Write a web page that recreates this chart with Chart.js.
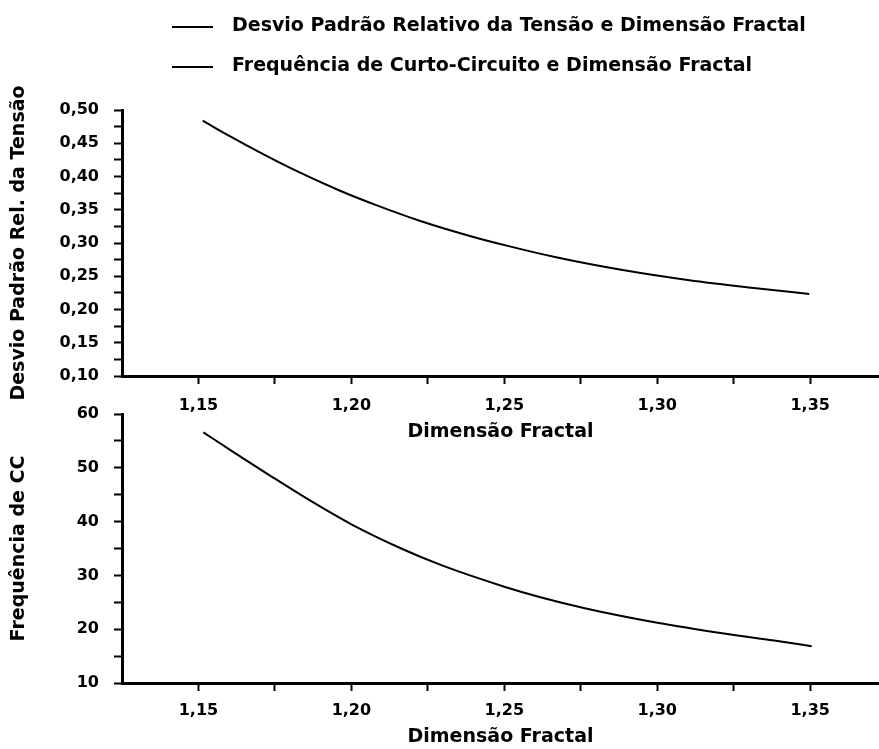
<!DOCTYPE html>
<html><head><meta charset="utf-8">
<script src="https://cdn.jsdelivr.net/npm/chart.js@4.4.1/dist/chart.umd.min.js"></script>
<style>
html,body{margin:0;padding:0;background:#fff;}
#wrap{position:relative;width:879px;height:749px;overflow:hidden;background:#fff;}
canvas{position:absolute;left:0;top:0;}
</style></head><body>
<div id="wrap">
<canvas id="bottomChart" width="879" height="749"></canvas>
<canvas id="topChart" width="879" height="450"></canvas>
</div>
<script>
// ---- data ----
const seriesNames = [
  'Desvio Padrão Relativo da Tensão e Dimensão Fractal',
  'Frequência de Curto-Circuito e Dimensão Fractal'
];
const xTitle = 'Dimensão Fractal';
const yTitleTop = 'Desvio Padrão Rel. da Tensão';
const yTitleBottom = 'Frequência de CC';

const dimTop = [1.1514, 1.1601, 1.1699, 1.1808, 1.1961, 1.2081, 1.2233, 1.2396, 1.2511, 1.2669, 1.2887, 1.3105, 1.3323, 1.3497];
const desvio = [0.484, 0.461, 0.4365, 0.411, 0.379, 0.357, 0.332, 0.3095, 0.2957, 0.2786, 0.2594, 0.2441, 0.2321, 0.2234];

const dimBottom = [1.1516, 1.1612, 1.1730, 1.1874, 1.2000, 1.2163, 1.2294, 1.2500, 1.2621, 1.2763, 1.3000, 1.3218, 1.3382, 1.3505];
const frequencia = [56.6, 53.0, 48.7, 43.6, 39.5, 35.0, 31.9, 27.9, 25.9, 23.9, 21.2, 19.2, 17.9, 16.85];

const xRange = [1.125, 1.3725];
const yRangeTop = [0.10, 0.50];
const yRangeBottom = [10, 60];

// ---- helpers ----
const FAMILY = '"DejaVu Sans", "Liberation Sans", sans-serif';
const tickFont = {family: FAMILY, size: 16, weight: 'bold'};
const titleFont = {family: FAMILY, size: 19, weight: 'bold'};
function isMult(v, s){ const r = v / s; return Math.abs(r - Math.round(r)) < 1e-6; }
function fmt(v, d){ return v.toFixed(d).replace('.', ','); }

const stackLegend = {
  id: 'stackLegend',
  afterDraw(chart, args, o) {
    if (!o || !o.items) return;
    const ctx = chart.ctx;
    ctx.save();
    ctx.font = 'bold 19px ' + FAMILY;
    ctx.fillStyle = '#000';
    ctx.strokeStyle = '#000';
    ctx.lineWidth = 2;
    ctx.textBaseline = 'middle';
    o.items.forEach((t, i) => {
      const y = o.top + i * o.rowGap;
      ctx.beginPath();
      ctx.moveTo(o.left, y + o.lineOffset);
      ctx.lineTo(o.left + o.lineLen, y + o.lineOffset);
      ctx.stroke();
      ctx.fillText(t, o.left + o.lineLen + o.gap, y);
    });
    ctx.restore();
  }
};

function xScale(height, labelPad, titlePadBottom) {
  return {
    type: 'linear', min: xRange[0], max: xRange[1],
    afterBuildTicks: (s) => { s.ticks = s.ticks.filter(t => t.value > s.min + 1e-9 && t.value < s.max - 1e-9 && isMult(t.value, 0.025)); },
    afterFit: (s) => { s.height = height; },
    ticks: {stepSize: 0.025, includeBounds: false, autoSkip: false, maxRotation: 0, font: tickFont, color: '#000', padding: labelPad,
      callback: (v) => isMult(v, 0.05) ? fmt(v, 2) : ''},
    grid: {drawOnChartArea: false, drawTicks: true, tickLength: 8, tickWidth: 2, tickColor: '#000'},
    border: {display: true, color: '#000', width: 3},
    title: {display: true, text: xTitle, font: titleFont, color: '#000', padding: {top: 0, bottom: titlePadBottom}}
  };
}
function yScale(range, step, major, dec, title) {
  return {
    min: range[0], max: range[1],
    afterFit: (s) => { s.width = 122; },
    ticks: {stepSize: step, autoSkip: false, font: tickFont, color: '#000', padding: 15,
      callback: (v) => isMult(v, major) ? fmt(v, dec) : ''},
    grid: {drawOnChartArea: false, drawTicks: true, tickLength: 8, tickWidth: 2, tickColor: '#000'},
    border: {display: true, color: '#000', width: 3},
    title: {display: true, text: title, font: titleFont, color: '#000', padding: {top: 8, bottom: 0}}
  };
}

new Chart(document.getElementById('bottomChart'), {
  type: 'line',
  data: {datasets: [{
    label: seriesNames[1],
    data: dimBottom.map((x, i) => ({x: x, y: frequencia[i]})),
    borderColor: '#000', borderWidth: 2, pointRadius: 0, fill: false, cubicInterpolationMode: 'monotone'
  }]},
  options: {
    responsive: false, animation: false, devicePixelRatio: 1,
    layout: {padding: {top: 414, left: 0, right: 0, bottom: 0}},
    plugins: {legend: {display: false}, tooltip: {enabled: false}},
    scales: {
      x: xScale(66, 10, 1),
      y: yScale(yRangeBottom, 5, 10, 0, yTitleBottom)
    }
  }
});

new Chart(document.getElementById('topChart'), {
  type: 'line',
  data: {datasets: [{
    label: seriesNames[0],
    data: dimTop.map((x, i) => ({x: x, y: desvio[i]})),
    borderColor: '#000', borderWidth: 2, pointRadius: 0, fill: false, cubicInterpolationMode: 'monotone'
  }]},
  options: {
    responsive: false, animation: false, devicePixelRatio: 1,
    layout: {padding: {top: 110, left: 0, right: 0, bottom: 0}},
    plugins: {
      legend: {display: false}, tooltip: {enabled: false},
      stackLegend: {items: seriesNames, left: 172, lineLen: 41, gap: 19, top: 26, rowGap: 40, lineOffset: 1}
    },
    scales: {
      x: xScale(74, 12, 7),
      y: yScale(yRangeTop, 0.025, 0.05, 2, yTitleTop)
    }
  },
  plugins: [stackLegend]
});
</script>
</body></html>
